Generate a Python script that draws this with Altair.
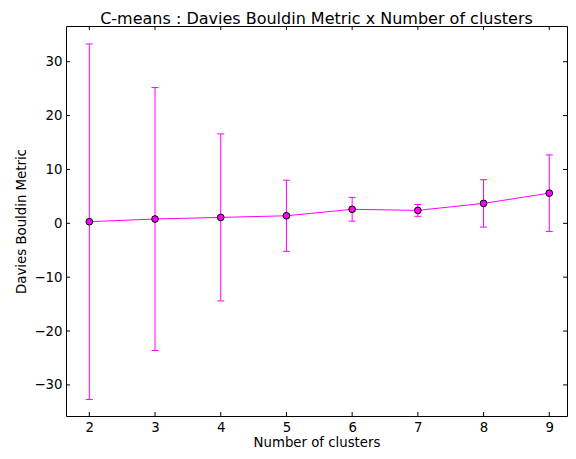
import altair as alt
import pandas as pd

clusters = [2, 3, 4, 5, 6, 7, 8, 9]
db_mean = [0.3, 0.8, 1.1, 1.4, 2.6, 2.4, 3.7, 5.6]
db_err = [33.0, 24.4, 15.5, 6.6, 2.2, 1.1, 4.4, 7.1]
x_ticks = [2, 3, 4, 5, 6, 7, 8, 9]
y_ticks = [-30, -20, -10, 0, 10, 20, 30]

df = pd.DataFrame({"k": clusters, "m": db_mean, "e": db_err})
df["lo"] = df["m"] - df["e"]
df["hi"] = df["m"] + df["e"]

W, H = 501, 390
MAG = "#ff00ff"
FONT = "DejaVu Sans"
xs = alt.Scale(domain=[1.645, 9.27], nice=False, zero=False)
ys = alt.Scale(domain=[-35.77, 36.63], nice=False, zero=False)

x_axis = alt.Axis(values=x_ticks, title="Number of clusters", ticks=False, domain=False,
                  grid=False, labelPadding=4, titlePadding=2, format="d")
y_axis = alt.Axis(values=y_ticks, title="Davies Bouldin Metric", ticks=False, domain=False,
                  grid=False, labelPadding=4, titlePadding=5, format="d")

base = alt.Chart(df)
X = alt.X("k:Q", scale=xs, axis=x_axis)

err = base.mark_rule(color=MAG, strokeWidth=1).encode(
    x=X, y=alt.Y("lo:Q", scale=ys, axis=y_axis), y2="hi:Q")
cap_hi = base.mark_tick(color=MAG, orient="horizontal", size=7, thickness=1, opacity=1).encode(
    x=X, y=alt.Y("hi:Q", scale=ys, axis=y_axis))
cap_lo = base.mark_tick(color=MAG, orient="horizontal", size=7, thickness=1, opacity=1).encode(
    x=X, y=alt.Y("lo:Q", scale=ys, axis=y_axis))
line = base.mark_line(color=MAG, strokeWidth=1).encode(x=X, y=alt.Y("m:Q", scale=ys, axis=y_axis))
pts = base.mark_point(shape="circle", filled=True, fill=MAG, stroke="black", strokeWidth=1,
                      size=45, opacity=1, fillOpacity=1).encode(
    x=X, y=alt.Y("m:Q", scale=ys, axis=y_axis))

xt = alt.Chart(pd.DataFrame({"t": x_ticks}))
yt = alt.Chart(pd.DataFrame({"t": y_ticks}))
XT = alt.X("t:Q", scale=xs, axis=x_axis)
YT = alt.Y("t:Q", scale=ys, axis=y_axis)
tick_top = xt.mark_rule(color="black", strokeWidth=1).encode(x=XT, y=alt.value(0), y2=alt.value(4))
tick_bot = xt.mark_rule(color="black", strokeWidth=1).encode(x=XT, y=alt.value(H - 4), y2=alt.value(H))
tick_left = yt.mark_rule(color="black", strokeWidth=1).encode(y=YT, x=alt.value(0), x2=alt.value(4))
tick_right = yt.mark_rule(color="black", strokeWidth=1).encode(y=YT, x=alt.value(W - 4), x2=alt.value(W))

chart = alt.layer(err, cap_hi, cap_lo, line, pts, tick_top, tick_bot, tick_left, tick_right).properties(
    width=W, height=H,
    title=alt.Title("C-means : Davies Bouldin Metric x Number of clusters", fontSize=16,
                    font=FONT, fontWeight="normal", color="black", anchor="middle",
                    baseline="alphabetic", offset=4, dy=18),
    autosize=alt.AutoSizeParams(type="none"),
    padding={"left": 58, "top": 18, "right": 1, "bottom": 35},
    background="white",
).configure_view(stroke="black", strokeWidth=1).configure_axis(
    labelFont=FONT, titleFont=FONT, labelFontSize=13.3, titleFontSize=13.3,
    labelColor="black", titleColor="black", titleFontWeight="normal"
)

chart.save("out.html", embed_options={"renderer": "svg", "actions": False})
